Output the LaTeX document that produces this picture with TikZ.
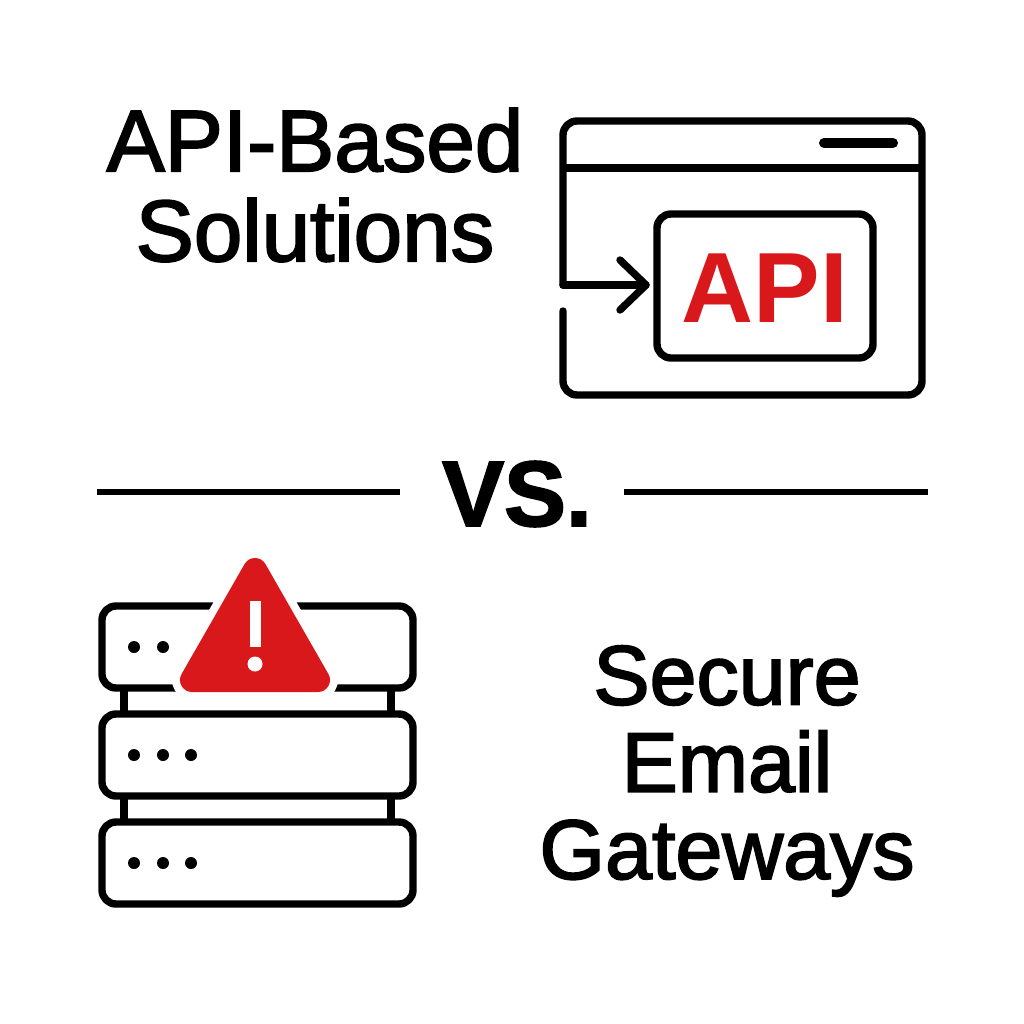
\documentclass[tikz,border=0pt]{standalone}
\usepackage{fontspec}
\setmainfont{Liberation Sans}
\newfontfamily\titlefont[FakeBold=2.2]{Liberation Sans}
\newfontfamily\apifont{Liberation Sans Bold}
\newfontfamily\versusfont[FakeBold=2]{Liberation Sans Bold}
\definecolor{alertred}{HTML}{D9181C}
\tikzset{
	outline/.style={draw=black, line width=1.85mm, line join=round, line cap=round},
	unitbox/.style={outline, rounded corners=3.5mm},
	dotmark/.style={circle, fill=black, minimum size=3mm, inner sep=0},
	bigtext/.style={align=center, inner sep=0, text=black},
}
\begin{document}
\begin{tikzpicture}[x=1cm/40,y=-1cm/40]
	\useasboundingbox[fill=white] (0,0) rectangle (1024,1024);
	%%%%% TITLES %%%%%
	\node[bigtext, font=\titlefont\fontsize{62}{64}\selectfont] (apititle) at (315,185) {API-Based\\Solutions};
	\node[bigtext, font=\titlefont\fontsize{60}{62}\selectfont] (emailtitle) at (727,771) {Secure\\Email\\Gateways};
	\node[font=\versusfont\fontsize{66}{70}\selectfont, inner sep=0] (versus) at (517,494) {VS.};
	\draw[outline, line cap=butt, line width=1.6mm] (97,492) -- (400,492);
	\draw[outline, line cap=butt, line width=1.6mm] (624,492) -- (928,492);
	%%%%% WINDOW %%%%%
	\draw[unitbox] (563,311) -- (563,395) -- (922,395) -- (922,121) -- (563,121) -- (563,285);
	\draw[outline] (563,285) -- (646,285);
	\draw[outline, line cap=butt] (563,168) -- (922,168);
	\draw[outline, line width=2.5mm] (824,143) -- (893,143);
	\draw[outline] (620,260) -- (646,285) -- (620,310);
	\draw[unitbox] (657,214) rectangle (873,358);
	\node[font=\apifont\fontsize{71}{76}\selectfont, text=alertred, inner sep=0] (apilabel) at (765,288) {API};
	%%%%% SERVERS %%%%%
	\draw[outline, line cap=butt] (124,688) -- (124,714);
	\draw[outline, line cap=butt] (391,688) -- (391,714);
	\draw[outline, line cap=butt] (124,796) -- (124,822);
	\draw[outline, line cap=butt] (391,796) -- (391,822);
	\foreach \y/\name in {606/top,714/mid,822/low} {
		\draw[unitbox] (102,\y) rectangle (413,\y+82);
		\node[dotmark] (\name a) at (134,\y+41) {};
		\node[dotmark] (\name b) at (163,\y+41) {};
	}
	\node[dotmark] (midc) at (191,755) {};
	\node[dotmark] (lowc) at (191,863) {};
	%%%%% ALERT %%%%%
	\draw[draw=white, fill=white, line width=10mm, line join=round] (255,570) -- (318,680) -- (192,680) -- cycle;
	\draw[draw=alertred, fill=alertred, line width=6mm, line join=round] (255,570) -- (318,680) -- (192,680) -- cycle;
	\fill[white] (249.5,601) rectangle (260.5,647);
	\fill[white] (255,664) circle (7.5);
\end{tikzpicture}
\end{document}
